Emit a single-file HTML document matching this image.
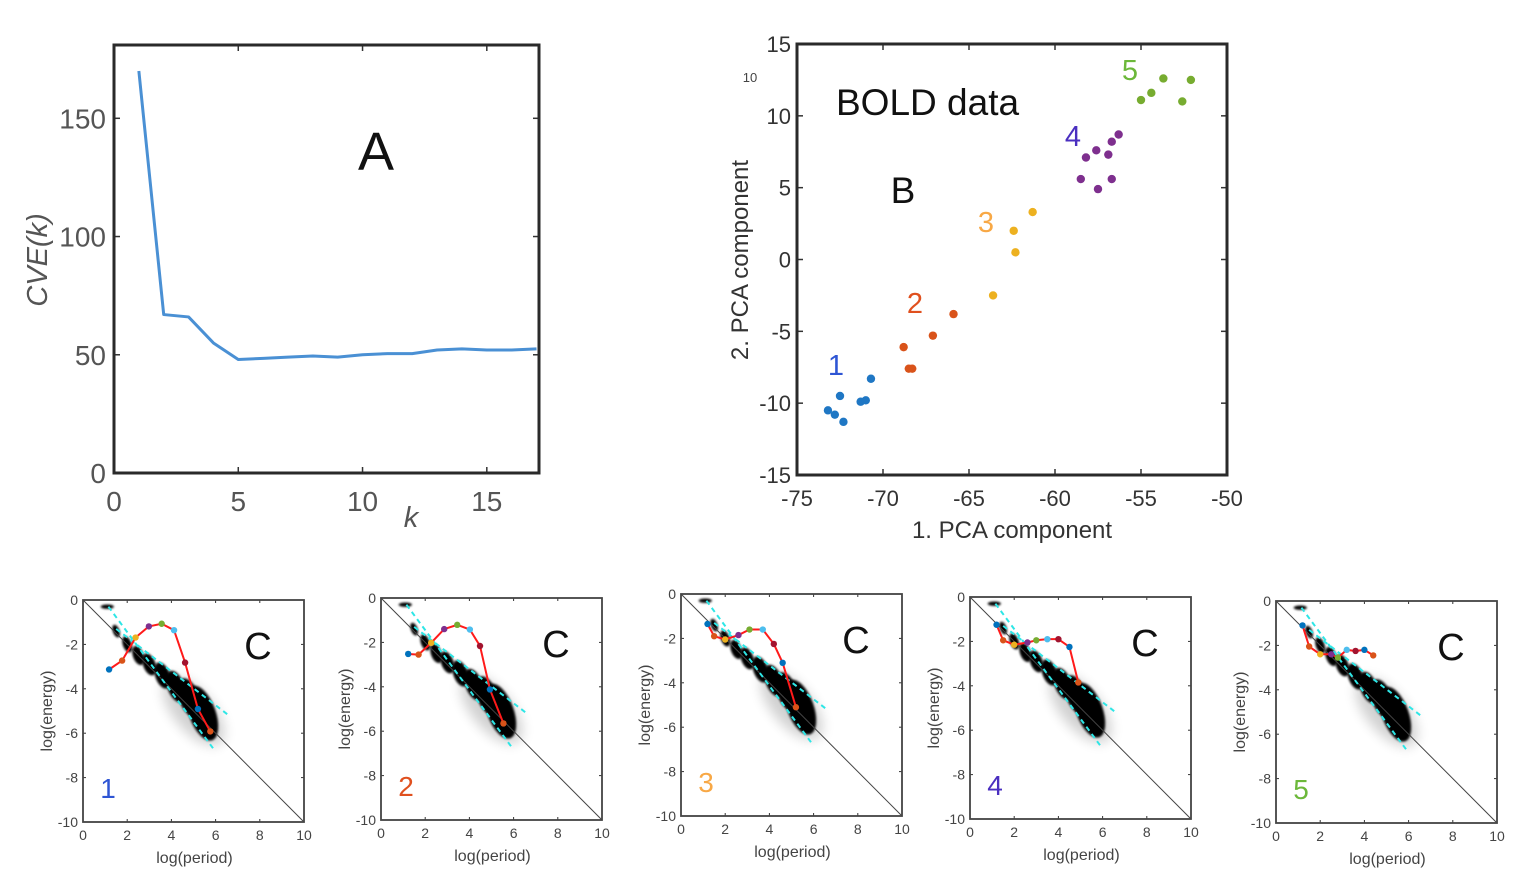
<!DOCTYPE html>
<html><head><meta charset="utf-8"><style>
html,body{margin:0;padding:0;background:#fff;}
svg{display:block;font-family:"Liberation Sans",sans-serif;}
</style></head><body>
<svg id="fig" width="1518" height="886" viewBox="0 0 1518 886" xmlns="http://www.w3.org/2000/svg">
<defs><filter id="blur" x="-50%" y="-50%" width="200%" height="200%"><feGaussianBlur stdDeviation="6"/></filter>
<filter id="blur2" x="-50%" y="-50%" width="200%" height="200%"><feGaussianBlur stdDeviation="1.1"/></filter></defs>
</svg>
<script>
// ---- Panel A data
const aK = [1,2,3,4,5,6,7,8,9,10,11,12,13,14,15,16,17];
const aCVE = [170,67,66,55,48,48.5,49,49.5,49,50,50.5,50.5,52,52.5,52,52,52.5];
const aXTicks = [0,5,10,15];
const aYTicks = [0,50,100,150];
// ---- Panel B data
const bX1 = [-73.2,-72.8,-72.5,-72.3,-71.3,-71.0,-70.7];
const bY1 = [-10.5,-10.8,-9.5,-11.3,-9.9,-9.8,-8.3];
const bX2 = [-68.8,-68.5,-68.3,-67.1,-65.9];
const bY2 = [-6.1,-7.6,-7.6,-5.3,-3.8];
const bX3 = [-63.6,-62.4,-62.3,-61.3];
const bY3 = [-2.5,2.0,0.5,3.3];
const bX4 = [-58.5,-58.2,-57.6,-57.5,-56.9,-56.7,-56.7,-56.3];
const bY4 = [5.6,7.1,7.6,4.9,7.3,5.6,8.2,8.7];
const bX5 = [-55.0,-54.4,-53.7,-52.6,-52.1];
const bY5 = [11.1,11.6,12.6,11.0,12.5];
const bXTicks = [-75,-70,-65,-60,-55,-50];
const bYTicks = [-15,-10,-5,0,5,10,15];
// ---- Panel C data
const cTicks = [0,2,4,6,8,10];
const cYTicks = [0,-2,-4,-6,-8,-10];
const blobX = [1.1,1.5,2.0,2.5,3.0,3.6,4.2,4.8,5.4];
const blobY = [-0.3,-1.4,-2.0,-2.5,-2.9,-3.4,-3.9,-4.4,-5.1];
const path1X = [1.18,1.77,2.38,2.98,3.56,4.12,4.62,5.2,5.76];
const path1Y = [-3.13,-2.73,-1.69,-1.19,-1.07,-1.36,-2.82,-4.91,-5.92];
const path2X = [1.23,1.70,2.27,2.86,3.45,4.02,4.48,4.93,5.54];
const path2Y = [-2.52,-2.55,-2.02,-1.40,-1.21,-1.42,-2.16,-4.12,-5.65];
const path3X = [1.2,1.5,2.0,2.6,3.1,3.7,4.2,4.6,5.2];
const path3Y = [-1.35,-1.9,-2.05,-1.85,-1.6,-1.6,-2.25,-3.1,-5.1];
const path4X = [1.2,1.5,2.0,2.6,3.0,3.5,4.0,4.5,4.9];
const path4Y = [-1.25,-1.95,-2.15,-2.05,-1.95,-1.9,-1.9,-2.25,-3.85];
const path5X = [1.2,1.5,2.0,2.5,2.8,3.2,3.6,4.0,4.4];
const path5Y = [-1.1,-2.05,-2.4,-2.4,-2.55,-2.2,-2.25,-2.2,-2.45];

const NS='http://www.w3.org/2000/svg';
const svg=document.getElementById('fig');
function mk(tag,attrs,parent,text){const e=document.createElementNS(NS,tag);for(const k in attrs)e.setAttribute(k,attrs[k]);if(text!==undefined)e.textContent=text;(parent||svg).appendChild(e);return e;}
function lin(d0,d1,p0,p1){return v=>p0+(v-d0)*(p1-p0)/(d1-d0);}

// ================= Panel A
const gA=mk('g',{});


const axL=114,axR=539,axT=45,axB=473;
const ax=lin(0,17.1,axL,axR), ay=lin(0,181,axB,axT);
aYTicks.forEach(v=>{
  mk('line',{x1:axL,x2:axL+6,y1:ay(v),y2:ay(v),stroke:'#333','stroke-width':1.5},gA);
  mk('line',{x1:axR,x2:axR-6,y1:ay(v),y2:ay(v),stroke:'#333','stroke-width':1.5},gA);
  const t=mk('text',{x:106,y:ay(v)+10,'text-anchor':'end','font-size':28,fill:'#555'},gA,String(v));
  
  
});
aXTicks.forEach(v=>{
  mk('line',{x1:ax(v),x2:ax(v),y1:axB,y2:axB-6,stroke:'#333','stroke-width':1.5},gA);
  mk('line',{x1:ax(v),x2:ax(v),y1:axT,y2:axT+6,stroke:'#333','stroke-width':1.5},gA);
  const t=mk('text',{x:ax(v),y:511,'text-anchor':'middle','font-size':28,fill:'#555'},gA,String(v));
  
  
});
const aLine=mk('polyline',{points:aK.map((k,i)=>ax(k)+','+ay(aCVE[i])).join(' '),fill:'none',stroke:'#4a90d4','stroke-width':3,'stroke-linejoin':'round'},gA);


const aBox=mk('rect',{x:axL,y:axT,width:axR-axL,height:axB-axT,fill:'none',stroke:'#2a2a2a','stroke-width':3},gA);


let t;
t=mk('text',{x:0,y:0,transform:'translate(47,260) rotate(-90)','text-anchor':'middle','font-size':29,fill:'#555','font-style':'italic'},gA,'CVE(k)');


t=mk('text',{x:411,y:527,'text-anchor':'middle','font-size':29,fill:'#555','font-style':'italic'},gA,'k');


t=mk('text',{x:376,y:170,'text-anchor':'middle','font-size':54,fill:'#111'},gA,'A');



// ================= Panel B
const gB=mk('g',{});


const bxL=797,bxR=1227,byT=44,byB=475;
const bx=lin(-75,-50,bxL,bxR), by=lin(-15,15,byB,byT);
bYTicks.forEach(v=>{
  mk('line',{x1:bxL,x2:bxL+6,y1:by(v),y2:by(v),stroke:'#333','stroke-width':1.5},gB);
  mk('line',{x1:bxR,x2:bxR-6,y1:by(v),y2:by(v),stroke:'#333','stroke-width':1.5},gB);
  const e=mk('text',{x:791,y:by(v)+8,'text-anchor':'end','font-size':22,fill:'#333'},gB,String(v));
  
  
});
bXTicks.forEach(v=>{
  mk('line',{x1:bx(v),x2:bx(v),y1:byB,y2:byB-6,stroke:'#333','stroke-width':1.5},gB);
  mk('line',{x1:bx(v),x2:bx(v),y1:byT,y2:byT+6,stroke:'#333','stroke-width':1.5},gB);
  const e=mk('text',{x:bx(v),y:506,'text-anchor':'middle','font-size':22,fill:'#333'},gB,String(v));
  
  
});
const clusters=[[bX1,bY1,'#1f77c4'],[bX2,bY2,'#d9531a'],[bX3,bY3,'#edb120'],[bX4,bY4,'#7e2f8e'],[bX5,bY5,'#77ac30']];
clusters.forEach((c,ci)=>{
  c[0].forEach((x,i)=>{
    const d=mk('circle',{cx:bx(x),cy:by(c[1][i]),r:4.2,fill:c[2]},gB);
    
    
  });
});
const bBox=mk('rect',{x:bxL,y:byT,width:bxR-bxL,height:byB-byT,fill:'none',stroke:'#2a2a2a','stroke-width':3},gB);


const bLabels=[['1',836,375,'#2e55d4'],['2',915,313,'#e0501e'],['3',986,232,'#f8a845'],['4',1073,146,'#4a2fc0'],['5',1130,80,'#6cb83a']];
bLabels.forEach(l=>{
  const e=mk('text',{x:l[1],y:l[2],'text-anchor':'middle','font-size':29,fill:l[3]},gB,l[0]);
  
  
});
t=mk('text',{x:750,y:82,'text-anchor':'middle','font-size':13,fill:'#444'},gB,'10');


t=mk('text',{x:836,y:115,'font-size':37,fill:'#111'},gB,'BOLD data');


t=mk('text',{x:903,y:203,'text-anchor':'middle','font-size':37,fill:'#111'},gB,'B');


t=mk('text',{x:1012,y:538,'text-anchor':'middle','font-size':24,fill:'#333'},gB,'1. PCA component');


t=mk('text',{x:0,y:0,transform:'translate(748,260) rotate(-90)','text-anchor':'middle','font-size':24,fill:'#333'},gB,'2. PCA component');



// ================= Panel C
const panels=[
  {L:83,R:304,T:600,B:822,px:path1X,py:path1Y,num:'1',col:'#2e55d4'},
  {L:381,R:602,T:598,B:820,px:path2X,py:path2Y,num:'2',col:'#e0501e'},
  {L:681,R:902,T:594,B:816,px:path3X,py:path3Y,num:'3',col:'#f8a845'},
  {L:970,R:1191,T:597,B:819,px:path4X,py:path4Y,num:'4',col:'#4a2fc0'},
  {L:1276,R:1497,T:601,B:823,px:path5X,py:path5Y,num:'5',col:'#6cb83a'}
];
const blobRX=[0.3,0.15,0.2,0.24,0.28,0.33,0.38,0.46,0.6];
const blobRY=[0.1,0.3,0.38,0.45,0.52,0.62,0.75,0.92,1.3];
const dotCols=['#0072bd','#d95319','#edb120','#7e2f8e','#77ac30','#4dbeee','#a2142f','#0072bd','#d95319'];
panels.forEach((p,pi)=>{
  const g=mk('g',{});
  
  
  const cx=lin(0,10,p.L,p.R), cy=lin(0,-10,p.T,p.B);
  const s=(p.R-p.L)/10;
  // haze
  mk('ellipse',{cx:cx(5.0),cy:cy(-5.0),rx:s*1.9,ry:s*0.9,transform:`rotate(50 ${cx(5.0)} ${cy(-5.0)})`,fill:'#000',opacity:0.18,filter:'url(#blur)'},g);
  blobX.forEach((bxv,i)=>{
    const X=cx(bxv),Y=cy(blobY[i]);
    const e=mk('ellipse',{cx:X,cy:Y,rx:blobRX[i]*s,ry:blobRY[i]*s,transform:`rotate(${i===0?0:-20} ${X} ${Y})`,fill:'#000',filter:'url(#blur2)'},g);
    
    
  });
  // diagonal
  const dg=mk('line',{x1:cx(0),y1:cy(0),x2:cx(10),y2:cy(-10),stroke:'#444','stroke-width':1},g);
  
  
  // cyan dashed fits
  let c1=mk('line',{x1:cx(1.15),y1:cy(-0.3),x2:cx(5.9),y2:cy(-6.7),stroke:'#2ee6e6','stroke-width':2,'stroke-dasharray':'5,4'},g);
  
  
  c1=mk('line',{x1:cx(1.5),y1:cy(-1.3),x2:cx(6.6),y2:cy(-5.2),stroke:'#2ee6e6','stroke-width':2,'stroke-dasharray':'5,4'},g);
  
  
  // red path
  const rl=mk('polyline',{points:p.px.map((x,i)=>cx(x)+','+cy(p.py[i])).join(' '),fill:'none',stroke:'#ff1a1a','stroke-width':2,'stroke-linejoin':'round'},g);
  
  
  p.px.forEach((x,i)=>{
    const d=mk('circle',{cx:cx(x),cy:cy(p.py[i]),r:3.2,fill:dotCols[i]},g);
    
    
  });
  // ticks
  cTicks.forEach(v=>{
    mk('line',{x1:cx(v),x2:cx(v),y1:p.B,y2:p.B-3,stroke:'#333'},g);
    mk('line',{x1:cx(v),x2:cx(v),y1:p.T,y2:p.T+3,stroke:'#333'},g);
    const e=mk('text',{x:cx(v),y:p.B+18,'text-anchor':'middle','font-size':14,fill:'#444'},g,String(v));
    
    
  });
  cYTicks.forEach(v=>{
    mk('line',{x1:p.L,x2:p.L+3,y1:cy(v),y2:cy(v),stroke:'#333'},g);
    mk('line',{x1:p.R,x2:p.R-3,y1:cy(v),y2:cy(v),stroke:'#333'},g);
    const e=mk('text',{x:p.L-5,y:cy(v)+5,'text-anchor':'end','font-size':14,fill:'#444'},g,String(v));
    
    
  });
  const fr=mk('rect',{x:p.L,y:p.T,width:p.R-p.L,height:p.B-p.T,fill:'none',stroke:'#444','stroke-width':1.8},g);
  
  
  let e=mk('text',{x:(p.L+p.R)/2+1,y:p.B+41,'text-anchor':'middle','font-size':16,fill:'#444'},g,'log(period)');
  
  
  e=mk('text',{x:0,y:0,transform:`translate(${p.L-31},${(p.T+p.B)/2}) rotate(-90)`,'text-anchor':'middle','font-size':16,fill:'#444'},g,'log(energy)');
  
  
  e=mk('text',{x:p.L+175,y:p.T+59,'text-anchor':'middle','font-size':38,fill:'#111'},g,'C');
  
  
  e=mk('text',{x:p.L+25,y:p.T+198,'text-anchor':'middle','font-size':28,fill:p.col},g,p.num);
  
  
});
</script>
</body></html>
